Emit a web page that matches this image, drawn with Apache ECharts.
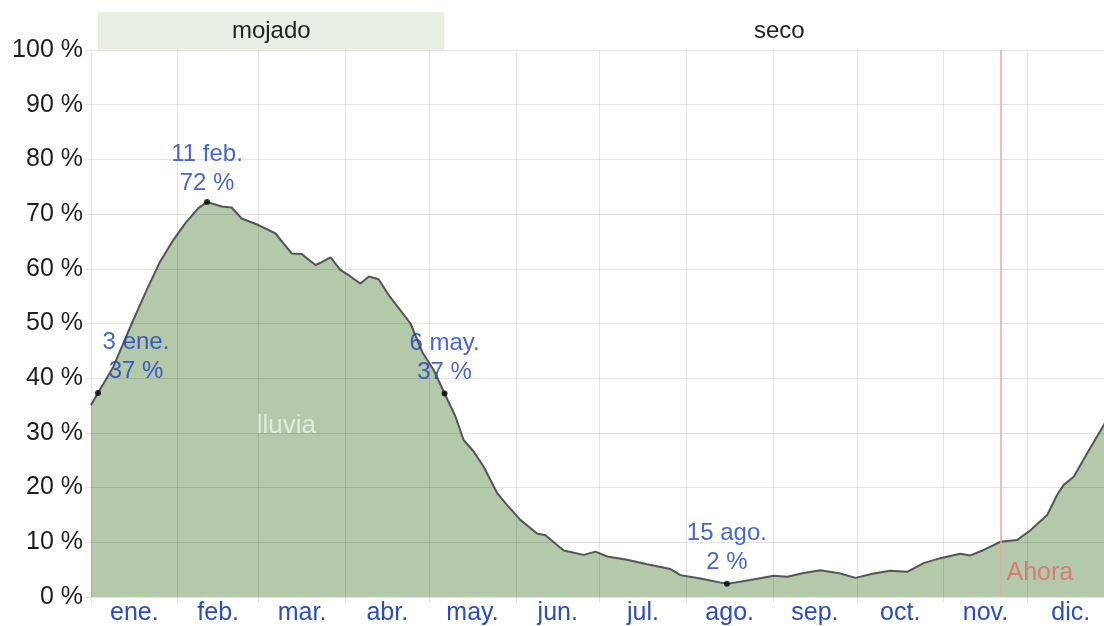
<!DOCTYPE html>
<html><head><meta charset="utf-8">
<script src="https://cdn.jsdelivr.net/npm/echarts@6/dist/echarts.min.js"></script>
<style>html,body{margin:0;padding:0;background:#fff}#c{width:1104px;height:626px}</style>
</head><body><div id="c"></div>
<script>
const monthNames = ['ene.','feb.','mar.','abr.','may.','jun.','jul.','ago.','sep.','oct.','nov.','dic.'];
const monthStarts = [0,31,60,91,121,152,182,213,244,274,305,335];
const yearDays = 366;
const yTicks = [0,10,20,30,40,50,60,70,80,90,100];

const rainDays = [0,2.5,8.0,14.6,19.9,24.7,29.5,33.7,38.4,41.5,46.8,50.3,53.9,59.9,65.9,71.8,75.4,77.3,80.3,82.1,85.7,89.2,92.8,96.4,99.4,102.9,106.5,110.1,114.3,118.5,122.6,126.5,130.4,133.3,136.9,140.5,145.3,148.9,153.6,159.6,162.6,169.1,176.3,180.5,184.7,191.8,199.0,207.3,210.9,218.0,227.5,235.9,244.3,249.1,255.0,260.9,268.1,273.5,280.0,286.0,292.0,297.9,303.9,311.0,314.6,319.4,325.4,331.3,336.1,342.1,345.6,348.0,351.6,356.4,362.3,366];
const rainValues = [35.1,37.3,42.1,50.0,56.1,61.3,65.3,68.3,71.1,72.2,71.4,71.2,69.2,68.0,66.5,62.8,62.7,61.9,60.7,61.1,62.1,59.8,58.6,57.3,58.6,58.1,55.2,52.8,50.0,44.8,41.5,37.2,33.0,28.7,26.6,23.8,19.0,16.8,14.1,11.6,11.3,8.5,7.7,8.3,7.4,6.8,6.0,5.1,4.0,3.4,2.4,3.1,3.9,3.7,4.4,4.9,4.3,3.5,4.3,4.8,4.6,6.2,7.1,7.9,7.6,8.6,10.1,10.4,12.2,15.0,18.6,20.5,22.0,26.3,31.4,34.8];

const annotDays = [2.5, 41.5, 126.5, 227.5];
const annotValues = [37.3, 72.2, 37.2, 2.4];
const annotLabels = ['3 ene.\n37 %', '11 feb.\n72 %', '6 may.\n37 %', '15 ago.\n2 %'];

const seasonNames = ['mojado', 'seco'];
const seasonStarts = [2.5, 126.5];
const seasonEnds = [126.5, 366];

const nowDay = 325.4;
const nowLabel = 'Ahora';
const seriesName = 'lluvia';
const seriesLabelAt = [69.9, 31.3];
const nowLabelAt = 4.4;

const monthMids = monthStarts.map((s, i) => (s + (i < 11 ? monthStarts[i + 1] : yearDays)) / 2);
const FONT = 'Liberation Sans';

const chart = echarts.init(document.getElementById('c'));
chart.setOption({
  animation: false,
  backgroundColor: '#fff',
  grid: [
    { left: 91, right: -10, top: 50, bottom: 29, outerBoundsMode: 'none', containLabel: false },
    { left: 91, right: -10, top: 12, height: 38, outerBoundsMode: 'none', containLabel: false }
  ],
  xAxis: [
    {
      type: 'value', gridIndex: 0, min: 0, max: yearDays, z: 5,
      axisLine: { show: false },
      axisTick: { show: true, length: 6, customValues: monthStarts, lineStyle: { color: 'rgba(0,0,0,0.1)' } },
      splitLine: { show: true, lineStyle: { color: 'rgba(0,0,0,0.1)', width: 1 } },
      axisLabel: {
        customValues: monthMids, margin: 4,
        color: '#2c4cc0', fontFamily: FONT, fontSize: 25,
        formatter: v => monthNames[monthMids.indexOf(v)]
      }
    },
    { type: 'value', gridIndex: 1, min: 0, max: yearDays, show: false }
  ],
  yAxis: [
    {
      type: 'value', gridIndex: 0, min: 0, max: 100, interval: 10, z: 5,
      axisLine: { show: false },
      axisTick: { show: true, length: 6, lineStyle: { color: 'rgba(0,0,0,0.1)' } },
      splitLine: { show: true, lineStyle: { color: 'rgba(0,0,0,0.1)', width: 1 } },
      axisLabel: { margin: 8, color: '#1e1e1e', fontFamily: FONT, fontSize: 25, formatter: '{value} %' }
    },
    { type: 'value', gridIndex: 1, min: 0, max: 1, show: false }
  ],
  series: [
    {
      name: seriesName, type: 'line', xAxisIndex: 0, yAxisIndex: 0,
      data: rainDays.map((d, i) => [d, rainValues[i]]),
      showSymbol: false, symbol: 'none',
      lineStyle: { color: '#555', width: 2 },
      areaStyle: { color: '#b3c9aa', opacity: 1 },
      markLine: {
        silent: true, symbol: 'none',
        lineStyle: { color: '#f4a0a0', width: 1.5, type: 'solid' },
        label: { show: false },
        data: [{ xAxis: nowDay }]
      }
    },
    {
      type: 'scatter', xAxisIndex: 0, yAxisIndex: 0, z: 10,
      symbolSize: 6, itemStyle: { color: '#000' },
      data: annotDays.map((d, i) => ({
        value: [d, annotValues[i]],
        label: { offset: i === 0 ? [38, 0] : (i === 1 ? [0, 3] : [0, 0]) }
      })),
      label: {
        show: true, position: 'top', distance: 4,
        formatter: p => annotLabels[p.dataIndex],
        color: '#1a40c0', fontFamily: FONT, fontSize: 24, lineHeight: 29, align: 'center'
      }
    },
    {
      type: 'scatter', xAxisIndex: 0, yAxisIndex: 0, z: 10, symbolSize: 0,
      data: [seriesLabelAt],
      label: { show: true, position: 'inside', formatter: seriesName, color: '#eef2e8', fontFamily: FONT, fontSize: 26 }
    },
    {
      type: 'scatter', xAxisIndex: 0, yAxisIndex: 0, z: 10, symbolSize: 0,
      data: [[nowDay, nowLabelAt]],
      label: { show: true, position: 'right', distance: 6, formatter: nowLabel, color: '#e06a6a', fontFamily: FONT, fontSize: 25 }
    },
    {
      type: 'line', xAxisIndex: 1, yAxisIndex: 1, data: [], silent: true,
      markArea: {
        silent: true,
        label: { show: true, position: 'inside', color: '#222', fontFamily: FONT, fontSize: 24 },
        data: seasonNames.map((n, i) => [
          { name: n, xAxis: seasonStarts[i], itemStyle: { color: i === 0 ? '#e9efe5' : '#ffffff' } },
          { xAxis: seasonEnds[i] }
        ])
      }
    }
  ]
});
</script></body></html>
